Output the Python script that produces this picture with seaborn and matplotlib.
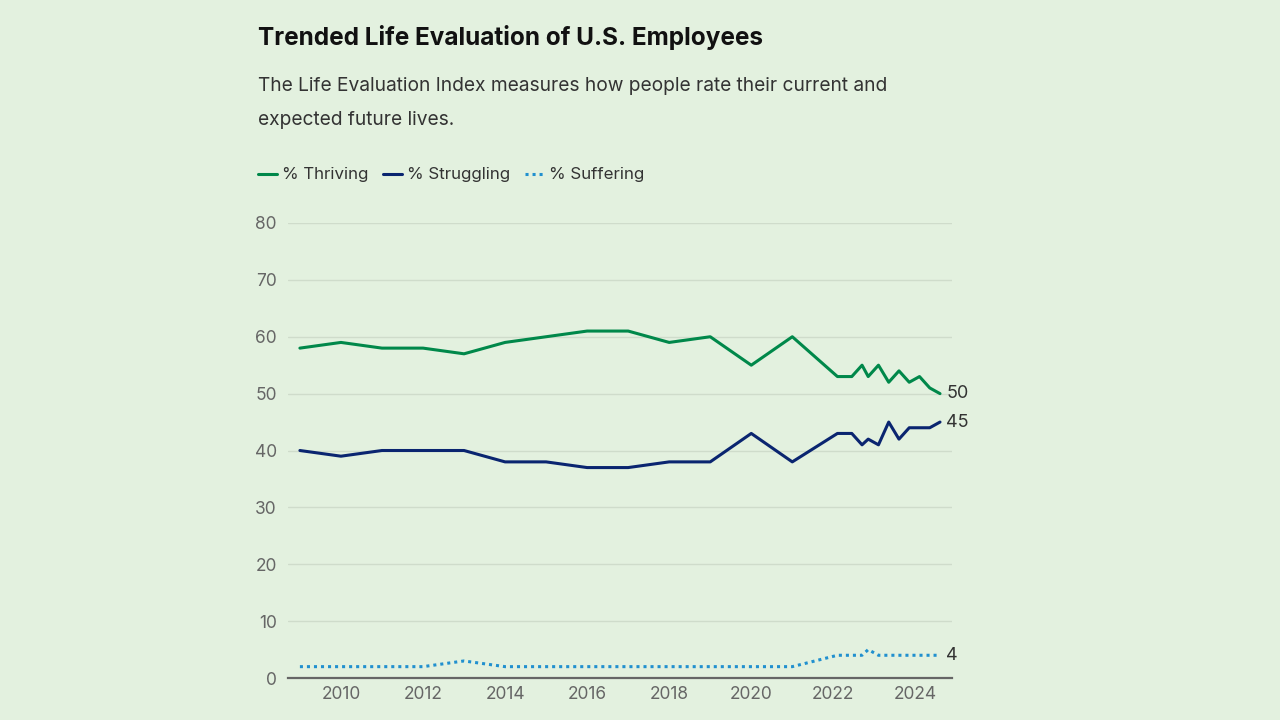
"""
Trended Life Evaluation of U.S. Employees - line chart.
"""

import pandas as pd
import matplotlib.pyplot as plt
import seaborn as sns
from matplotlib.lines import Line2D

# Данные (годы в дробном виде для поздних замеров)
years = [2009, 2010, 2011, 2012, 2013, 2014, 2015, 2016, 2017, 2018, 2019, 2020, 2021,
         2022.1, 2022.45, 2022.7, 2022.85, 2023.1, 2023.35, 2023.6, 2023.85,
         2024.1, 2024.35, 2024.6]
thriving = [58, 59, 58, 58, 57, 59, 60, 61, 61, 59, 60, 55, 60,
            53, 53, 55, 53, 55, 52, 54, 52, 53, 51, 50]
struggling = [40, 39, 40, 40, 40, 38, 38, 37, 37, 38, 38, 43, 38,
              43, 43, 41, 42, 41, 45, 42, 44, 44, 44, 45]
suffering = [2, 2, 2, 2, 3, 2, 2, 2, 2, 2, 2, 2, 2,
             4, 4, 4, 5, 4, 4, 4, 4, 4, 4, 4]
series_names = ['% Thriving', '% Struggling', '% Suffering']
x_ticks = [2010, 2012, 2014, 2016, 2018, 2020, 2022, 2024]
y_ticks = [0, 10, 20, 30, 40, 50, 60, 70, 80]

BG = '#e3f1df'
COLORS = ['#00884a', '#0a2570', '#2190cf']

df = pd.DataFrame({'year': years, series_names[0]: thriving,
                   series_names[1]: struggling, series_names[2]: suffering})

sns.set_theme(style='white')
plt.rcParams['font.family'] = ['Inter', 'DejaVu Sans']

fig = plt.figure(figsize=(12.8, 7.2), dpi=100, facecolor=BG)
ax = fig.add_axes([0.225, 0.0583, 0.519, 0.632], facecolor=BG)

styles = ['-', '-', (0, (1, 1.3))]
for name, color, ls in zip(series_names, COLORS, styles):
    sns.lineplot(data=df, x='year', y=name, color=color, linewidth=2.2,
                 linestyle=ls, ax=ax, legend=False)

# Подписи последних значений
for name in series_names:
    last = df[name].iloc[-1]
    ax.text(df['year'].iloc[-1] + 0.15, last, f'{last}', fontsize=13,
            color='#333333', va='center', ha='left')

ax.set_xlim(2008.71, 2024.9)
ax.set_ylim(0, 80)
ax.set_xticks(x_ticks)
ax.set_yticks(y_ticks)
ax.set_xlabel('')
ax.set_ylabel('')
ax.grid(axis='y', color='#cfdccb', linewidth=1)
ax.set_axisbelow(True)
for side in ['top', 'right', 'left']:
    ax.spines[side].set_visible(False)
ax.spines['bottom'].set_color('#666666')
ax.spines['bottom'].set_linewidth(1.6)
ax.tick_params(axis='both', length=0, labelsize=12.5, labelcolor='#666666')
ax.tick_params(axis='y', pad=8)
ax.tick_params(axis='x', pad=6)

# Заголовок и подзаголовок
fig.text(258 / 1280, 1 - 37 / 720, 'Trended Life Evaluation of U.S. Employees',
         fontsize=17.5, fontweight='bold', color='#111111', va='center', ha='left')
fig.text(258 / 1280, 1 - 86 / 720,
         'The Life Evaluation Index measures how people rate their current and',
         fontsize=13.8, color='#333333', va='center', ha='left')
fig.text(258 / 1280, 1 - 120 / 720, 'expected future lives.',
         fontsize=13.8, color='#333333', va='center', ha='left')

# Легенда
handles = [Line2D([0], [0], color=c, linewidth=2.2, linestyle=ls)
           for c, ls in zip(COLORS, styles)]
fig.legend(handles, series_names, loc='center left',
           bbox_to_anchor=(258 / 1280, 1 - 175 / 720), ncol=3, frameon=False,
           fontsize=12.2, handlelength=1.1, handletextpad=0.3, columnspacing=0.9,
           borderpad=0, borderaxespad=0, labelcolor='#333333')

fig.savefig('out.png', dpi=100, facecolor=BG)
